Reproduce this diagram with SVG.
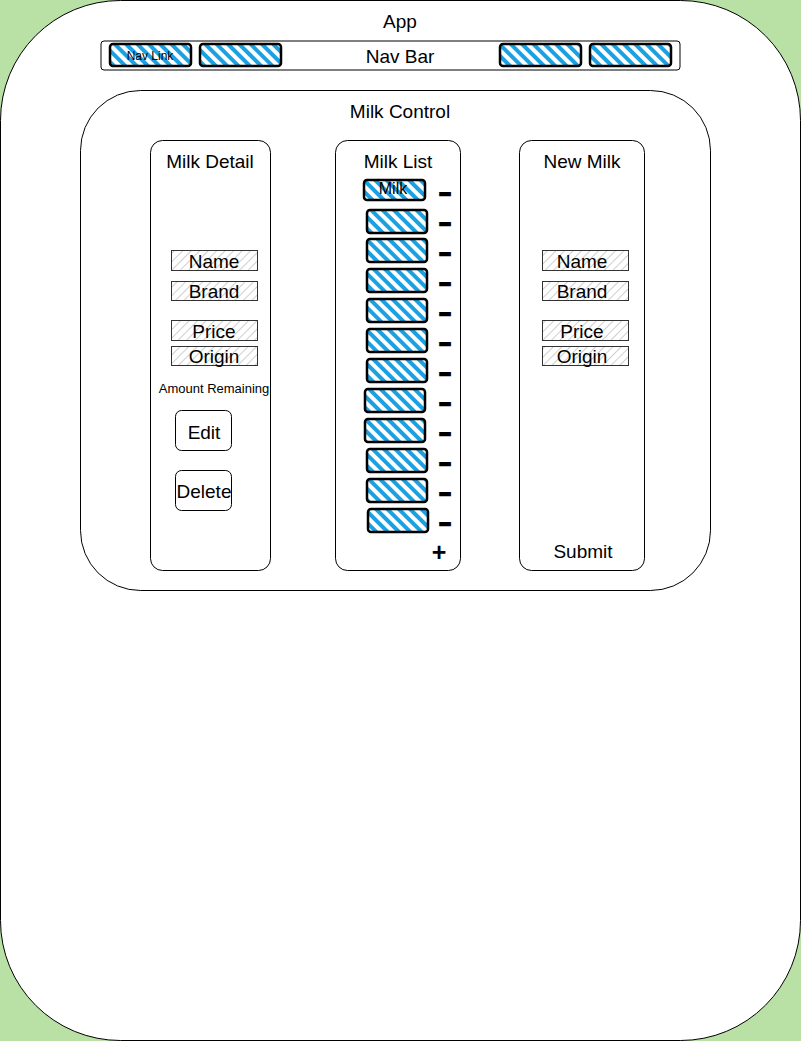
<svg xmlns="http://www.w3.org/2000/svg" width="801" height="1041" viewBox="0 0 801 1041">
<defs>
<pattern id="blue" width="8" height="8" patternUnits="userSpaceOnUse" patternTransform="rotate(-45)">
<rect x="0" y="0" width="8" height="8" fill="#fff"/>
<rect x="0" y="0" width="4" height="8" fill="#1BA1E2"/>
</pattern>
<pattern id="gray" width="6" height="6" patternUnits="userSpaceOnUse" patternTransform="rotate(45)">
<rect x="0" y="0" width="6" height="6" fill="#fff"/>
<rect x="0" y="0" width="1" height="6" fill="#cfcfcf"/>
</pattern>
<style>
text{font-family:"Liberation Sans",Arial,sans-serif;fill:#000;text-anchor:middle;}
.t16{font-size:19px;}
.box{fill:#fff;stroke:#000;stroke-width:1;}
.field{fill:url(#gray);stroke:#333;stroke-width:1;}
.sk{fill:url(#blue);stroke:#000;stroke-width:2.5;}
.minus{font-size:19px;font-weight:bold;stroke:#000;stroke-width:2.4;stroke-linejoin:miter;}
</style>
</defs>
<rect x="0" y="0" width="801" height="1041" fill="#B9E0A5"/>
<g id="app">
<rect x="0.5" y="0.5" width="800" height="1040" rx="120" class="box"/>
<text x="400" y="28" class="t16">App</text>
</g>
<g id="navbar">
<rect x="101" y="41" width="579" height="29" rx="3" class="box"/>
<text x="400" y="63" class="t16">Nav Bar</text>
</g>
<g id="navlink1"><rect x="110" y="44" width="81" height="22" rx="3" class="sk"/><text x="150" y="60" style="font-size:12px">Nav Link</text></g>
<g id="navlink2"><rect x="200" y="44" width="81" height="22" rx="3" class="sk"/></g>
<g id="navlink3"><rect x="500" y="44" width="81" height="22" rx="3" class="sk"/></g>
<g id="navlink4"><rect x="590" y="44" width="81" height="22" rx="3" class="sk"/></g>
<g id="milkcontrol">
<rect x="80.5" y="90.5" width="630" height="500" rx="60" class="box"/>
<text x="400" y="118" class="t16">Milk Control</text>
</g>
<g id="milkdetail">
<rect x="150.5" y="140.5" width="120" height="430" rx="12" class="box"/>
<text x="210" y="168" class="t16">Milk Detail</text>
</g>
<g id="md-name"><rect x="171.5" y="250.5" width="86" height="20" class="field"/><text x="214" y="268" class="t16">Name</text></g>
<g id="md-brand"><rect x="171.5" y="281.5" width="86" height="19" class="field"/><text x="214" y="298" class="t16">Brand</text></g>
<g id="md-price"><rect x="171.5" y="320.5" width="86" height="20" class="field"/><text x="214" y="338" class="t16">Price</text></g>
<g id="md-origin"><rect x="171.5" y="346.5" width="86" height="19" class="field"/><text x="214" y="363" class="t16">Origin</text></g>
<g id="md-amount"><text x="214" y="393" style="font-size:13px">Amount Remaining</text></g>
<g id="md-edit"><rect x="175.5" y="410.5" width="56" height="40" rx="6" class="box"/><text x="204" y="439" class="t16">Edit</text></g>
<g id="md-delete"><rect x="175.5" y="470.5" width="56" height="40" rx="6" class="box"/><text x="204" y="498" class="t16">Delete</text></g>
<g id="milklist">
<rect x="335.5" y="140.5" width="125" height="430" rx="12" class="box"/>
<text x="398" y="168" class="t16">Milk List</text>
</g>
<g id="milk1"><rect x="364" y="180" width="61" height="20" rx="3" class="sk"/><text x="393" y="194" style="font-size:16px">Milk</text><text x="445" y="198.5" class="minus">–</text></g>
<g id="milk2"><rect x="367" y="210" width="60" height="23" rx="3" class="sk"/><text x="445" y="228.5" class="minus">–</text></g>
<g id="milk3"><rect x="367" y="239" width="60" height="23" rx="3" class="sk"/><text x="445" y="258.5" class="minus">–</text></g>
<g id="milk4"><rect x="367" y="269" width="60" height="23" rx="3" class="sk"/><text x="445" y="288.5" class="minus">–</text></g>
<g id="milk5"><rect x="367" y="299" width="60" height="23" rx="3" class="sk"/><text x="445" y="318.5" class="minus">–</text></g>
<g id="milk6"><rect x="367" y="329" width="60" height="23" rx="3" class="sk"/><text x="445" y="348.5" class="minus">–</text></g>
<g id="milk7"><rect x="367" y="359" width="60" height="23" rx="3" class="sk"/><text x="445" y="378.5" class="minus">–</text></g>
<g id="milk8"><rect x="365" y="389" width="60" height="23" rx="3" class="sk"/><text x="445" y="408.5" class="minus">–</text></g>
<g id="milk9"><rect x="365" y="419" width="60" height="23" rx="3" class="sk"/><text x="445" y="438.5" class="minus">–</text></g>
<g id="milk10"><rect x="367" y="449" width="60" height="23" rx="3" class="sk"/><text x="445" y="468.5" class="minus">–</text></g>
<g id="milk11"><rect x="367" y="479" width="60" height="23" rx="3" class="sk"/><text x="445" y="498.5" class="minus">–</text></g>
<g id="milk12"><rect x="368" y="509" width="60" height="23" rx="3" class="sk"/><text x="445" y="528.5" class="minus">–</text></g>
<g id="add"><text x="439" y="561" style="font-size:25px;font-weight:bold">+</text></g>
<g id="newmilk">
<rect x="519.5" y="140.5" width="125" height="430" rx="12" class="box"/>
<text x="582" y="168" class="t16">New Milk</text>
<text x="583" y="558" class="t16">Submit</text>
</g>
<g id="nm-name"><rect x="542.5" y="250.5" width="86" height="20" class="field"/><text x="582" y="268" class="t16">Name</text></g>
<g id="nm-brand"><rect x="542.5" y="281.5" width="86" height="19" class="field"/><text x="582" y="298" class="t16">Brand</text></g>
<g id="nm-price"><rect x="542.5" y="320.5" width="86" height="20" class="field"/><text x="582" y="338" class="t16">Price</text></g>
<g id="nm-origin"><rect x="542.5" y="346.5" width="86" height="19" class="field"/><text x="582" y="363" class="t16">Origin</text></g>
<g id="connectors"></g>
</svg>
